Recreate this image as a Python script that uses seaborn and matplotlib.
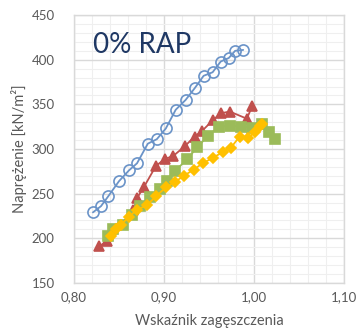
import matplotlib
matplotlib.use("Agg")
import matplotlib.pyplot as plt
from matplotlib.ticker import MultipleLocator, FuncFormatter
import seaborn as sns
import pandas as pd

# Stress vs. compaction index, four test series
x_circle = [0.821, 0.830, 0.838, 0.850, 0.861, 0.870, 0.882, 0.892, 0.902, 0.913,
            0.924, 0.934, 0.944, 0.954, 0.963, 0.972, 0.979, 0.988]
y_circle = [229, 236, 247, 264, 276, 284, 306, 311, 323, 344,
            355, 368, 382, 386, 398, 402, 410, 411]

x_tri = [0.828, 0.837, 0.866, 0.870, 0.878, 0.891, 0.901, 0.910, 0.923, 0.934,
         0.942, 0.954, 0.963, 0.973, 0.992, 0.998]
y_tri = [191, 197, 232, 245, 258, 281, 289, 292, 303, 314,
         320, 332, 340, 342, 334, 348]

x_sq = [0.838, 0.843, 0.854, 0.864, 0.873, 0.884, 0.896, 0.903, 0.912, 0.926,
        0.937, 0.949, 0.961, 0.973, 0.986, 0.998, 1.009, 1.017, 1.023]
y_sq = [203, 210, 215, 226, 236, 246, 255, 264, 275, 289,
        302, 315, 325, 326, 325, 324, 328, 319, 311]

x_dia = [0.841, 0.847, 0.852, 0.861, 0.870, 0.881, 0.891, 0.902, 0.912, 0.922,
         0.933, 0.943, 0.954, 0.966, 0.974, 0.984, 0.993, 1.001, 1.007, 1.009]
y_dia = [202, 210, 215, 224, 232, 237, 247, 257, 263, 270,
         277, 284, 290, 297, 301, 314, 312, 319, 326, 328]

x_ticks = [0.80, 0.90, 1.00, 1.10]
y_ticks = [150, 200, 250, 300, 350, 400, 450]

sns.set_theme(style="white")
plt.rcParams["font.family"] = ["Lato", "DejaVu Sans"]

fig = plt.figure(figsize=(3.6, 3.36), dpi=100)
ax = fig.add_axes([0.2056, 0.158, 0.75, 0.797])

series = [
    (x_circle, y_circle, "o", "#6a93c8", "none", 8.0),
    (x_tri, y_tri, "^", "#c0504d", "#c0504d", 7.5),
    (x_sq, y_sq, "s", "#9bbb59", "#9bbb59", 6.8),
    (x_dia, y_dia, "D", "#ffc000", "#ffc000", 5.6),
]
for xs, ys, mk, col, face, ms in series:
    df = pd.DataFrame({"x": xs, "y": ys})
    sns.lineplot(data=df, x="x", y="y", sort=False, ax=ax, color=col,
                 linewidth=1.3, marker=mk, markersize=ms,
                 markerfacecolor=face, markeredgecolor=col,
                 markeredgewidth=1.2, estimator=None)

ax.set_xlim(0.80, 1.10)
ax.set_ylim(150, 450)
ax.xaxis.set_minor_locator(MultipleLocator(0.02))
ax.yaxis.set_minor_locator(MultipleLocator(10))
ax.set_xticks(x_ticks)
ax.set_yticks(y_ticks)
ax.xaxis.set_major_formatter(FuncFormatter(lambda v, p: f"{v:.2f}".replace(".", ",")))
ax.grid(which="major", color="#d9d9d9", linewidth=1.0)
ax.grid(which="minor", color="#efefef", linewidth=0.8)
ax.set_axisbelow(True)
for sp in ax.spines.values():
    sp.set_color("#d9d9d9")
    sp.set_linewidth(1.0)

ax.tick_params(axis="both", which="both", length=0, labelsize=9.5,
               labelcolor="#595959")
ax.tick_params(axis="x", pad=6)
ax.tick_params(axis="y", pad=14)
ax.set_xlabel("Wskaźnik zagęszczenia", fontsize=10.5, color="#595959", labelpad=8)
ax.set_ylabel("Naprężenie [kN/m²]", fontsize=10.5, color="#595959", labelpad=3)

ax.text(0.821, 416.5, "0% RAP", fontsize=20, color="#1f3864", va="center", ha="left")

fig.savefig("out.png", dpi=100)
